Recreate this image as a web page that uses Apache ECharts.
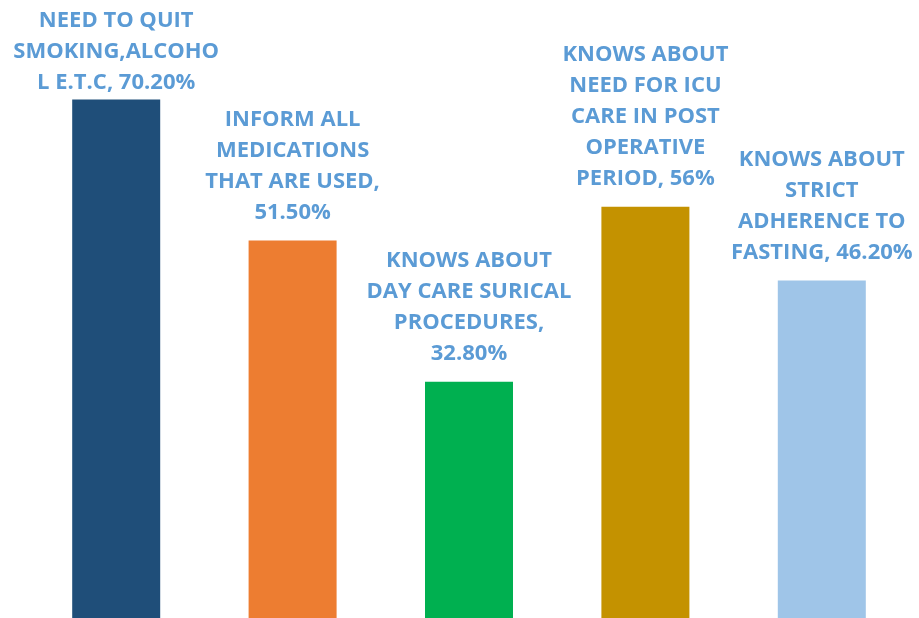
<!DOCTYPE html>
<html>
<head>
<meta charset="utf-8">
<script src="https://cdn.jsdelivr.net/npm/echarts@6/dist/echarts.min.js"></script>
<style>
  html, body { margin: 0; padding: 0; background: #fff; }
  #main { width: 919px; height: 618px; }
</style>
</head>
<body>
<div id="main"></div>
<script>
// categories / values
const categories = [
  'NEED TO QUIT\nSMOKING,ALCOHO\nL E.T.C',
  'INFORM ALL\nMEDICATIONS\nTHAT ARE USED,',
  'KNOWS ABOUT\nDAY CARE SURICAL\nPROCEDURES,',
  'KNOWS ABOUT\nNEED FOR ICU\nCARE IN POST\nOPERATIVE\nPERIOD',
  'KNOWS ABOUT\nSTRICT\nADHERENCE TO\nFASTING'
];
const values = [70.2, 51.5, 32.8, 56, 46.2];
const valueLabels = ['70.20%', '51.50%', '32.80%', '56%', '46.20%'];
const barColors = ['#1f4e79', '#ed7d31', '#00b050', '#c49200', '#9fc5e8'];
// how the value text joins the category text
const joiners = [', ', '\n', '\n', ', ', ', '];

let myChart = echarts.init(document.getElementById('main'));

let option = {
  animation: false,
  grid: { left: 28, right: 9, top: 0, bottom: 0 },
  xAxis: {
    type: 'category',
    data: categories,
    show: false
  },
  yAxis: {
    type: 'value',
    min: 1.46,
    max: 83.4,
    show: false
  },
  series: [{
    type: 'bar',
    barWidth: 88,
    data: values.map((v, i) => ({
      value: v,
      itemStyle: {color: barColors[i]},
      // first label sits tight to its bar (top of the picture)
      label: {distance: i === 0 ? 1 : 12}
    })),
    label: {
      show: true,
      position: 'top',
      color: '#5b9bd5',
      fontFamily: 'Open Sans',
      fontWeight: 'bold',
      fontSize: 22,
      lineHeight: 31,
      align: 'center',
      formatter: p => categories[p.dataIndex] + joiners[p.dataIndex] + valueLabels[p.dataIndex]
    }
  }]
};
myChart.setOption(option);
</script>
</body>
</html>
